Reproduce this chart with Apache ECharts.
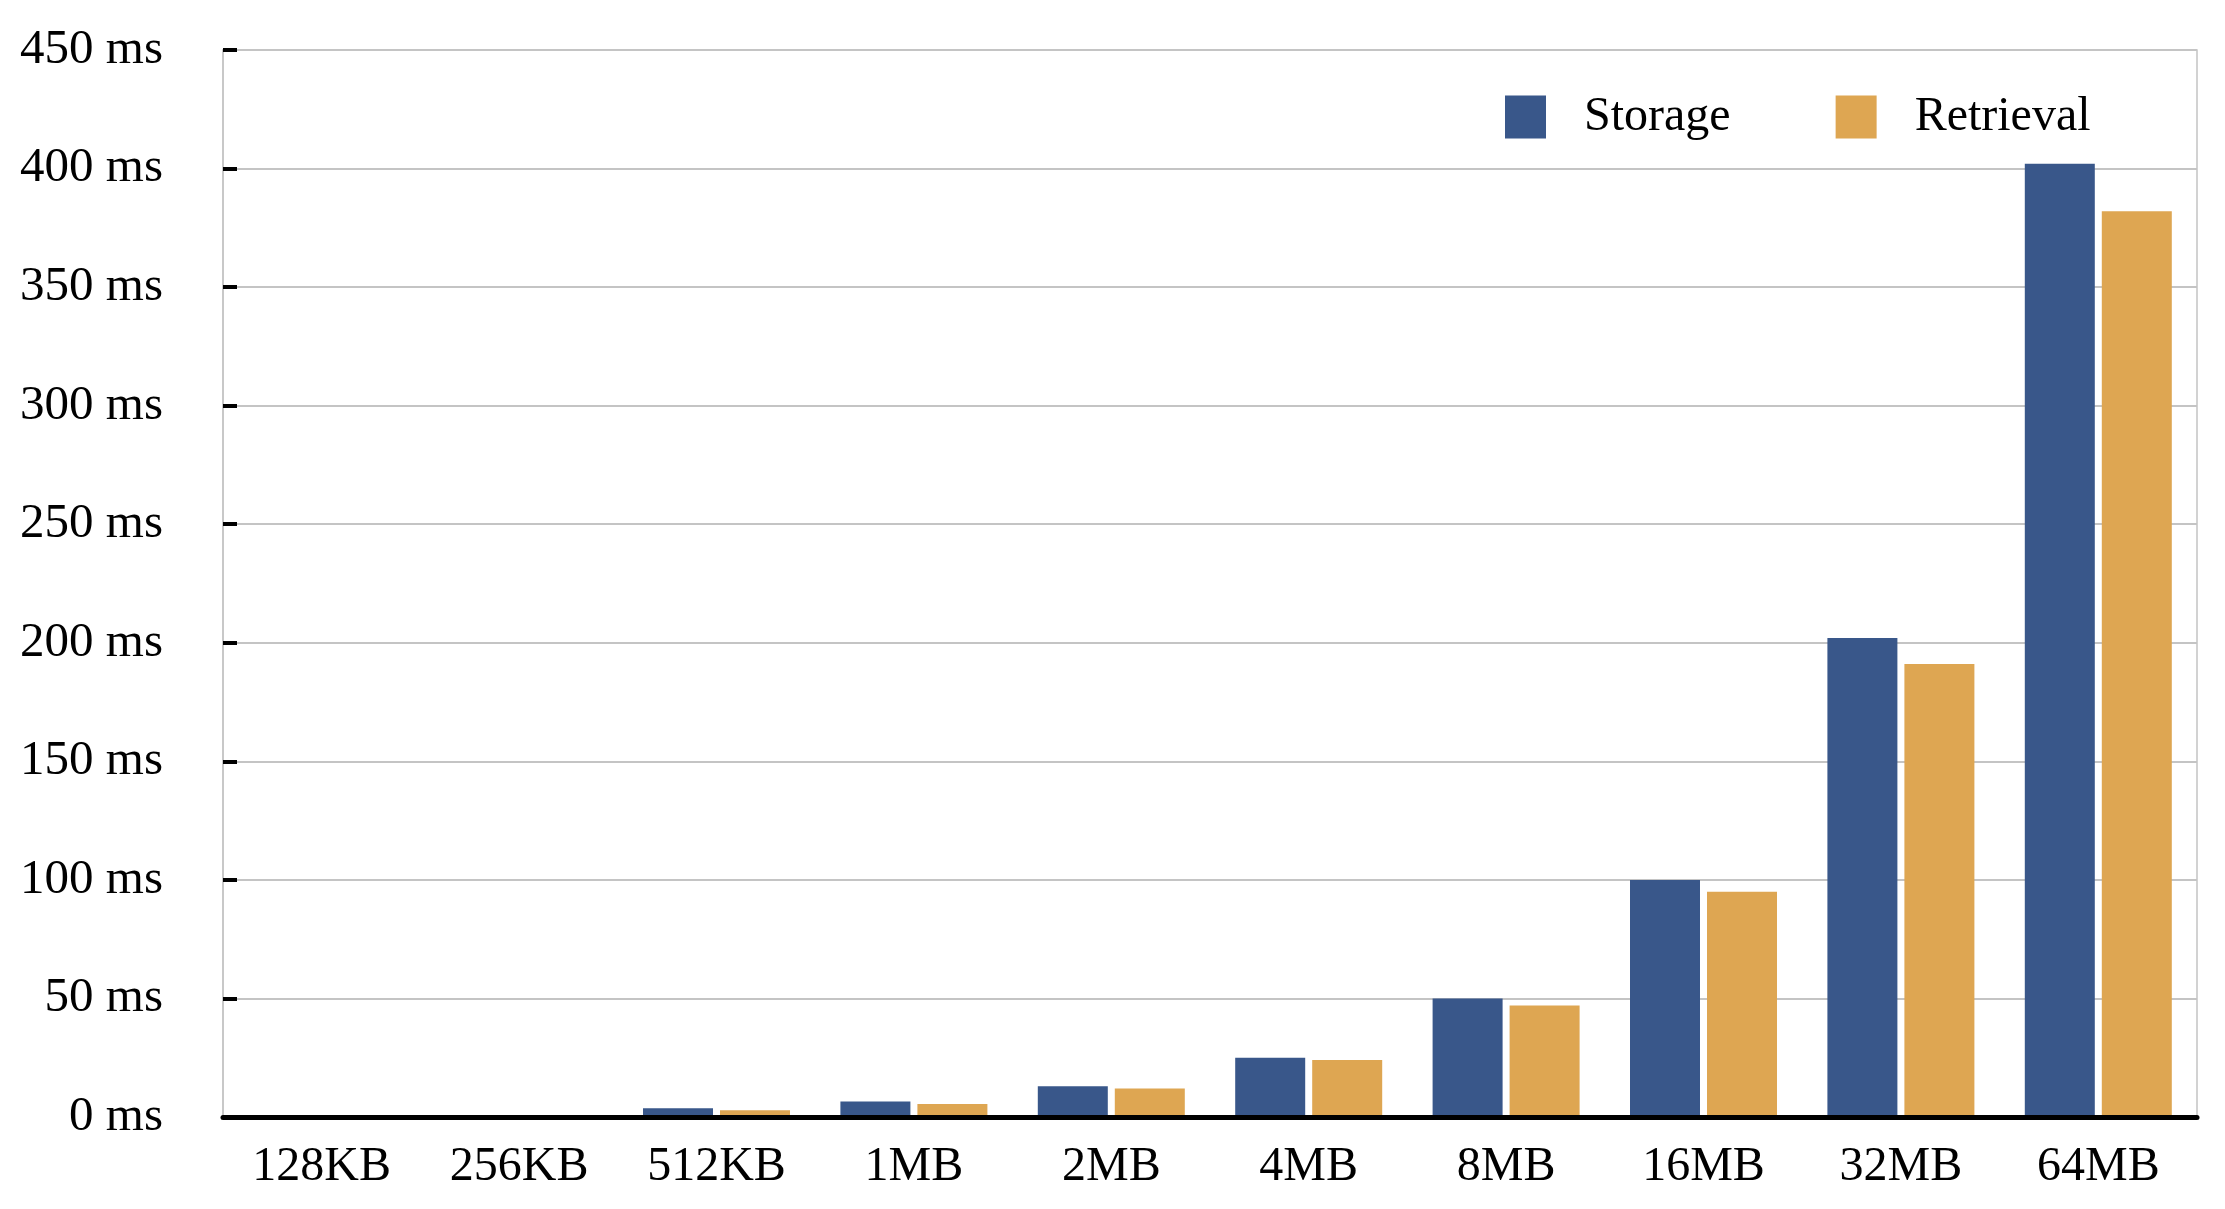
<!DOCTYPE html>
<html>
<head>
<meta charset="utf-8">
<style>
html,body{margin:0;padding:0;background:#fff;}
#chart{width:2225px;height:1209px;}
</style>
<script src="https://cdn.jsdelivr.net/npm/echarts@6/dist/echarts.min.js"></script>
</head>
<body>
<div id="chart"></div>
<script>
const categories = ['128KB','256KB','512KB','1MB','2MB','4MB','8MB','16MB','32MB','64MB'];
const storage = [0.4, 0.8, 3.7, 6.5, 13, 25, 50, 100, 202, 402];
const retrieval = [0.3, 0.7, 2.8, 5.5, 12, 24, 47, 95, 191, 382];
const yTicks = { min: 0, max: 450, interval: 50 };

const FONT = '"Liberation Serif", "Times New Roman", serif';
const chart = echarts.init(document.getElementById('chart'));
chart.setOption({
  backgroundColor: '#ffffff',
  animation: false,
  grid: {
    left: 223, right: 28, top: 50, bottom: 92,
    show: true, borderColor: '#c4c4c4', borderWidth: 1.5, backgroundColor: 'transparent'
  },
  legend: {
    left: 1505, top: 93,
    itemWidth: 41, itemHeight: 43, itemGap: 105,
    icon: 'rect',
    padding: 0,
    textStyle: { fontFamily: FONT, fontSize: 48, color: '#000', padding: [0, 0, 0, 33] },
    data: ['Storage', 'Retrieval']
  },
  xAxis: {
    type: 'category',
    data: categories,
    z: 5,
    axisLine: { show: true, lineStyle: { color: '#000', width: 5 } },
    axisTick: { show: false },
    axisLabel: { fontFamily: FONT, fontSize: 48, color: '#000', margin: 26 },
    splitLine: { show: false }
  },
  yAxis: {
    type: 'value',
    min: yTicks.min, max: yTicks.max, interval: yTicks.interval,
    axisLine: { show: true, lineStyle: { color: '#c4c4c4', width: 1.5 } },
    axisTick: { show: true, inside: true, length: 14, lineStyle: { color: '#000', width: 4 } },
    axisLabel: { fontFamily: FONT, fontSize: 49, color: '#000', margin: 60, formatter: '{value} ms' },
    splitLine: { show: true, lineStyle: { color: '#c4c4c4', width: 2 } }
  },
  series: [
    { name: 'Storage', type: 'bar', data: storage, barWidth: 70, barGap: '10%',
      itemStyle: { color: '#39578a' } },
    { name: 'Retrieval', type: 'bar', data: retrieval, barWidth: 70,
      itemStyle: { color: '#dea652' } }
  ]
});
</script>
</body>
</html>
